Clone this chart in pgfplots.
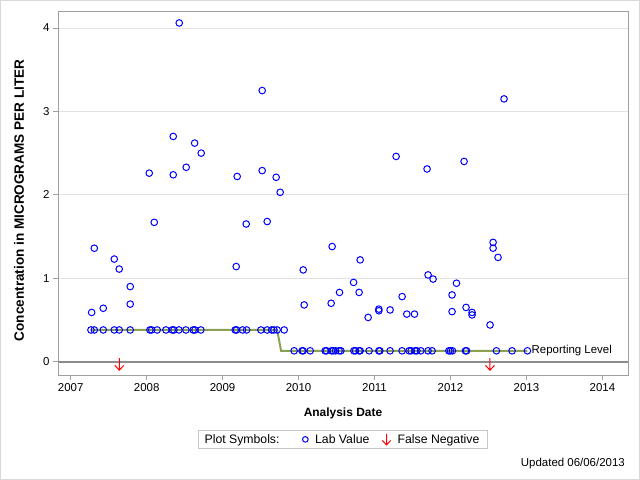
\documentclass[border=0pt]{standalone}
\usepackage{pgfplots}
\pgfplotsset{compat=1.18}
\usepackage{fontspec}
\setmainfont{Liberation Sans}

\definecolor{labblue}{RGB}{0,0,255}
\definecolor{rlgreen}{RGB}{138,160,82}
\definecolor{framegray}{RGB}{160,160,160}
\definecolor{gridgray}{RGB}{226,226,226}
\definecolor{refgray}{RGB}{140,140,140}

% red arrow for false negatives
\pgfdeclareplotmark{fnarrow}{%
  \pgfpathmoveto{\pgfpoint{0pt}{\pgfplotmarksize}}%
  \pgfpathlineto{\pgfpoint{0pt}{-\pgfplotmarksize}}%
  \pgfpathmoveto{\pgfpoint{-0.75\pgfplotmarksize}{-0.2\pgfplotmarksize}}%
  \pgfpathlineto{\pgfpoint{0pt}{-\pgfplotmarksize}}%
  \pgfpathlineto{\pgfpoint{0.75\pgfplotmarksize}{-0.2\pgfplotmarksize}}%
  \pgfusepathqstroke}

\newcommand{\tickfont}{\fontsize{11.5}{13}\selectfont}
\newcommand{\labfont}{\fontsize{12}{14}\selectfont\bfseries}
\newcommand{\gap}[1]{\rule{#1}{0pt}}

\begin{document}
\begin{tikzpicture}
\path[use as bounding box] (-58bp,-105bp) rectangle (582bp,375bp);
\draw[gray!30, line width=1bp] (-57.5bp,-104.5bp) rectangle (581.5bp,374.5bp);
\begin{axis}[
    at={(0,0)}, anchor=south west,
    scale only axis, width=570bp, height=363.7bp,
    xmin=2006.833, xmax=2014.337,
    ymin=-0.16, ymax=4.2,
    xtick={2007,2008,...,2014},
    ytick={0,1,2,3,4},
    xtick pos=bottom, ytick pos=left,
    tick align=outside, major tick length=5bp,
    axis line style={framegray},
    tick style={framegray, line width=0.8bp},
    ymajorgrids=true,
    grid style={gridgray, line width=0.8bp},
    /pgf/number format/.cd, 1000 sep={}, assume math mode=true, /pgfplots/.cd,
    every tick label/.append style={font=\tickfont},
    xlabel={Analysis Date},
    ylabel={Concentration in MICROGRAMS PER LITER},
    every axis x label/.style={at={(axis description cs:0.5,-0.1045)}, anchor=center, font=\labfont},
    every axis y label/.style={at={(axis description cs:-0.0684,0.480)}, rotate=90, anchor=center,
        font=\fontsize{13.6}{15}\selectfont\bfseries},
    legend columns=3,
    legend style={at={(0.5,-0.177)}, anchor=center, draw=gray!45,
        font=\fontsize{12.3}{14}\selectfont, inner xsep=1bp, inner ysep=1.5bp,
        column sep=0pt, nodes={inner xsep=0pt}},
]
\addlegendimage{empty legend}
\addlegendentry{\gap{5bp}Plot Symbols:\gap{23bp}}

% zero reference line
\addplot[refgray, line width=2.2bp, forget plot] coordinates {(2006.833,0) (2014.337,0)};

% reporting level
\addplot[rlgreen, line width=2bp, forget plot] coordinates {
    (2007.267,0.38) (2009.718,0.38) (2009.770,0.13) (2013.013,0.13)};

% lab values
\addplot[only marks, mark=o, mark size=3.3bp, labblue, line width=1bp,
    legend image post style={mark size=2.8bp}] coordinates {
    (2007.267,0.38) (2007.311,0.38) (2007.429,0.38) (2007.574,0.38) (2007.639,0.38)
    (2007.784,0.38) (2008.043,0.38) (2008.066,0.38) (2008.139,0.38) (2008.254,0.38)
    (2008.337,0.38) (2008.359,0.38) (2008.425,0.38) (2008.517,0.38) (2008.613,0.38)
    (2008.636,0.38) (2008.714,0.38) (2009.166,0.38) (2009.184,0.38) (2009.263,0.38)
    (2009.316,0.38) (2009.504,0.38) (2009.587,0.38) (2009.645,0.38) (2009.675,0.38)
    (2009.718,0.38) (2009.811,0.38)
    (2009.942,0.13) (2010.047,0.13) (2010.061,0.13) (2010.153,0.13) (2010.350,0.13)
    (2010.368,0.13) (2010.434,0.13) (2010.455,0.13) (2010.487,0.13) (2010.534,0.13)
    (2010.557,0.13) (2010.728,0.13) (2010.750,0.13) (2010.797,0.13) (2010.811,0.13)
    (2010.929,0.13) (2011.057,0.13) (2011.070,0.13) (2011.205,0.13) (2011.363,0.13)
    (2011.455,0.13) (2011.482,0.13) (2011.534,0.13) (2011.557,0.13) (2011.609,0.13)
    (2011.705,0.13) (2011.758,0.13) (2011.978,0.13) (2012.000,0.13) (2012.026,0.13)
    (2012.197,0.13) (2012.211,0.13) (2012.605,0.13) (2012.811,0.13) (2013.013,0.13)
    (2007.276,0.59) (2007.311,1.36) (2007.429,0.64) (2007.574,1.23) (2007.639,1.11)
    (2007.784,0.90) (2007.784,0.69) (2008.034,2.26) (2008.100,1.67) (2008.350,2.70)
    (2008.350,2.24) (2008.429,4.06) (2008.521,2.33) (2008.632,2.62) (2008.718,2.50)
    (2009.179,1.14) (2009.192,2.22) (2009.311,1.65) (2009.521,3.25) (2009.521,2.29)
    (2009.587,1.68) (2009.705,2.21) (2009.758,2.03) (2010.061,1.10) (2010.074,0.68)
    (2010.429,0.70) (2010.442,1.38) (2010.539,0.83) (2010.724,0.95) (2010.797,0.83)
    (2010.811,1.22) (2010.916,0.53) (2011.057,0.63) (2011.057,0.61) (2011.205,0.62)
    (2011.284,2.46) (2011.363,0.78) (2011.425,0.57) (2011.526,0.57) (2011.692,2.31)
    (2011.705,1.04) (2011.771,0.99) (2012.021,0.80) (2012.021,0.60) (2012.079,0.94)
    (2012.179,2.40) (2012.205,0.65) (2012.284,0.59) (2012.284,0.56) (2012.521,0.44)
    (2012.561,1.43) (2012.561,1.36) (2012.626,1.25) (2012.705,3.15)
};
\addlegendentry{\gap{7bp}Lab Value\gap{13bp}}

% false negatives
\addplot[only marks, mark=fnarrow, mark size=6bp, red, line width=1bp,
    legend image post style={mark size=5.5bp}] coordinates {
    (2007.64,-0.03) (2012.52,-0.03)};
\addlegendentry{\gap{7bp}False Negative\gap{7bp}}

\node[anchor=west, inner sep=0pt, font=\tickfont] at (axis cs:2013.066,0.128) {Reporting Level};
\end{axis}
\node[anchor=base east, inner sep=0pt, font=\tickfont] at (567bp,-91.7bp) {Updated 06/06/2013};
\end{tikzpicture}
\end{document}
